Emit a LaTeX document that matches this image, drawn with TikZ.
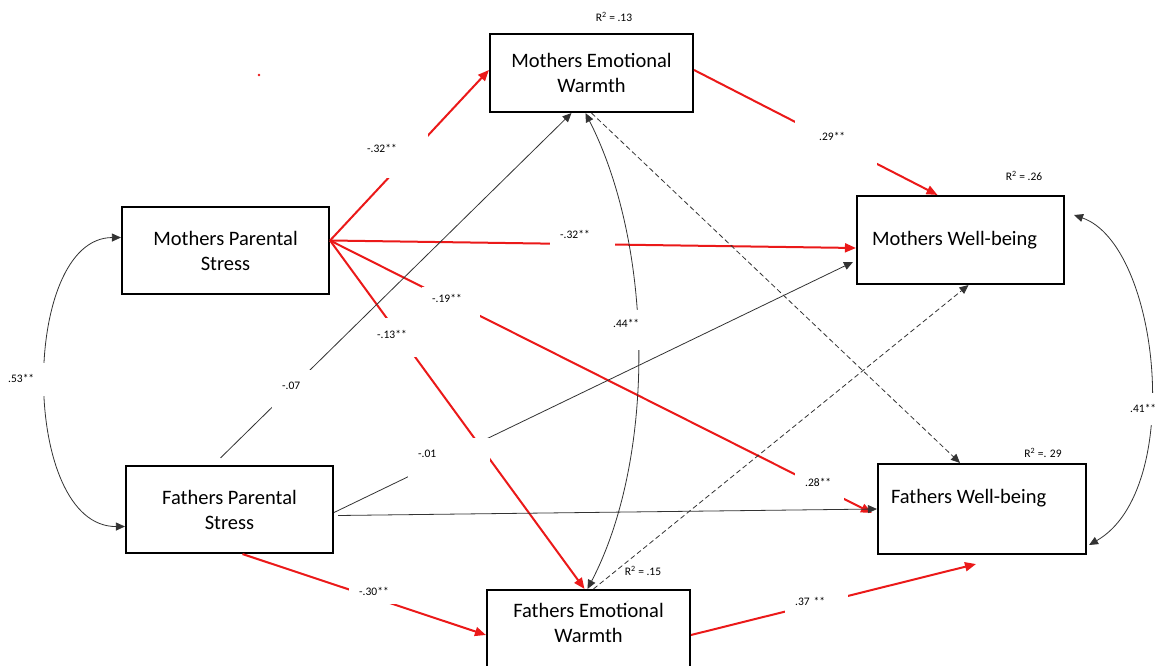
\documentclass[tikz,border=0pt]{standalone}
\usepackage{fontspec}
\setmainfont{Carlito}
\usetikzlibrary{arrows.meta,positioning}
\definecolor{pathred}{RGB}{235,25,25}
\newcommand{\boxfont}{\fontsize{20.5}{25}\selectfont}
\newcommand{\coeffont}{\fontsize{11.5}{13}\selectfont}

\begin{document}
\begin{tikzpicture}[x=1pt, y=-1pt]
    \tikzstyle{construct} = [rectangle, draw, line width=2.1pt, inner sep=0pt, align=center, font=\boxfont, minimum width=205pt, minimum height=87pt]
    \tikzstyle{redline} = [draw, pathred, line width=2pt, -{Triangle[length=11pt,width=9pt]}]
    \tikzstyle{line} = [draw, black!80, line width=0.8pt, -{Triangle[length=9pt,width=8pt]}]
    \tikzstyle{dashline} = [line, dash pattern=on 5pt off 3pt]
    \tikzstyle{cov} = [line, arrows={Triangle[length=9pt,width=8pt]-Triangle[length=9pt,width=8pt]}]
    \tikzstyle{coef} = [fill=white, inner xsep=10pt, inner ysep=0pt, align=left, anchor=north west, font=\coeffont]
    \tikzstyle{rsq} = [font=\coeffont, inner sep=0pt]

    \fill [white] (0,0) rectangle (1160,666);
    \useasboundingbox (0,0) rectangle (1160,666);

    \node [construct, minimum width=203pt, minimum height=78pt] (mew) at (591.5,73) {Mothers Emotional\\Warmth};
    \node [construct, minimum width=207pt] (mps) at (225.5,250.5) {Mothers Parental\\Stress};
    \node [construct, minimum width=207pt, minimum height=88pt] (mwb) at (960.5,240) {\makebox[177pt][l]{Mothers Well-being}};
    \node [construct, minimum width=207pt] (fps) at (229.5,509.5) {Fathers Parental\\Stress};
    \node [construct, minimum width=208pt, minimum height=90pt] (fwb) at (982,509) {\makebox[182pt][l]{Fathers Well-being}\\\mbox{}};
    \node [construct, minimum width=203pt, minimum height=90pt] (few) at (588.5,635) {Fathers Emotional\\Warmth\\\mbox{}};

    \path [redline] ([yshift=10pt]mps.east) -- ([yshift=3pt]mew.west);
    \path [redline] ([yshift=10pt]mps.east) -- ([yshift=-8pt]mwb.west);
    \path [redline] ([yshift=10pt]mps.east) -- ([xshift=-5pt,yshift=-4pt]fwb.west);
    \path [redline] ([yshift=10pt]mps.east) -- ([xshift=-4pt]few.north);
    \path [redline] ([xshift=13pt]fps.south) -- (few.west);
    \path [redline] (few.east) -- ([xshift=-6pt,yshift=-9pt]fwb.south);
    \path [redline] ([yshift=3pt]mew.east) -- ([xshift=-23pt]mwb.north);

    \path [line] ([xshift=-9pt,yshift=7pt]fps.north) -- ([xshift=-20pt]mew.south);
    \path [line] ([yshift=-3pt]fps.east) -- ([xshift=-3pt,yshift=-22pt]mwb.west);
    \path [line] ([xshift=4pt,yshift=-6pt]fps.east) -- (fwb.west);
    \path [dashline] (mew.south) -- ([xshift=-22pt]fwb.north);
    \path [dashline] ([xshift=5pt]few.north) -- ([xshift=8pt]mwb.south);

    \path [cov] ([xshift=-6pt]mew.south) .. controls (655,250) and (655,460) .. ([xshift=-1pt]few.north);
    \path [cov] ([yshift=13pt]mps.west) .. controls (20,238) and (20,527) .. ([yshift=-17pt]fps.west);
    \path [cov] ([xshift=9pt,yshift=25pt]mwb.east) .. controls (1160,245) and (1185,490) .. ([xshift=2pt,yshift=-36pt]fwb.east);

    \node [coef, text width=51pt, text height=22pt, text depth=26pt] (kMpsMew) at (357,130) {-.32**};
    \node [coef, text width=45pt, text height=16pt, text depth=16pt] (kMpsMwb) at (550,222) {-.32**};
    \node [coef, text width=38pt, text height=15pt, text depth=16pt] (kMpsFwb) at (422,287) {-.19**};
    \node [coef, text width=45pt, text height=20pt, text depth=19pt] (kMpsFew) at (367,318) {-.13**};
    \node [coef, text width=33pt, text height=19pt, text depth=24pt] (kFpsMew) at (272,370) {-.07};
    \node [coef, text width=62pt, text height=19pt, text depth=23pt] (kFpsMwb) at (408,438) {-.01};
    \node [coef, text width=29pt, text height=17pt, text depth=23pt] (kWarmth) at (603,310) {.44**};
    \node [coef, text width=33pt, text height=17pt, text depth=9pt] (kFpsFew) at (349,578) {-.30**};
    \node [coef, text width=43pt, text height=17pt, text depth=13pt] (kFewFwb) at (785,588) {.37 **};
    \node [coef, text width=29pt, text height=16pt, text depth=14pt] (kFwb) at (795,470) {.28**};
    \node [coef, inner xsep=24pt, text width=34pt, text height=22pt, text depth=26pt] (kMewMwb) at (795,118) {.29**};
    \node [coef, text width=27pt, text height=19pt, text depth=13pt] (kWellbeing) at (1120,393) {.41**};
    \node [coef, text width=38pt, text height=19pt, text depth=14pt] (kStress) at (-2,363) {.53**};

    \node [rsq] (rMew) at (614,17) {R\textsuperscript{2} = .13};
    \node [rsq] (rMwb) at (1024,176) {R\textsuperscript{2} = .26};
    \node [rsq] (rFwb) at (1043,453) {R\textsuperscript{2} =. 29};
    \node [rsq] (rFew) at (643,571) {R\textsuperscript{2} = .15};

    \fill [pathred] (259,75) circle (1.3pt);
\end{tikzpicture}
\end{document}
